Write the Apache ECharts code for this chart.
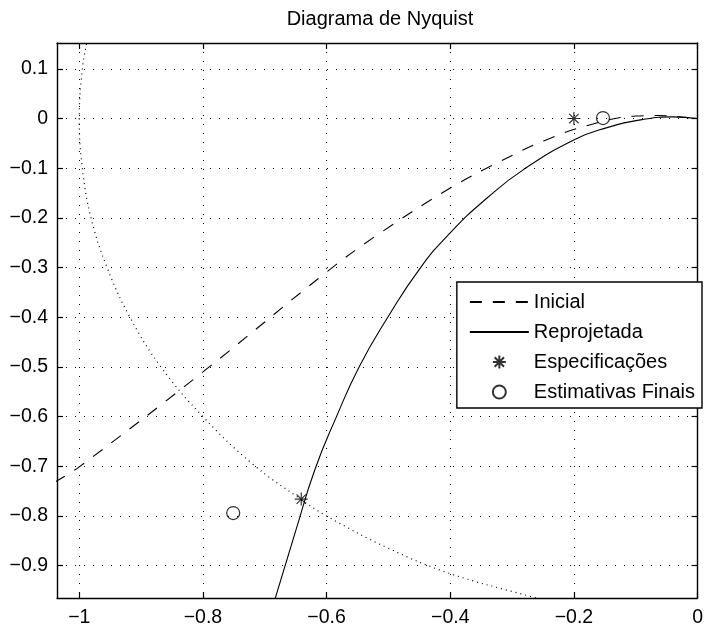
<!DOCTYPE html>
<html>
<head>
  <meta charset="utf-8">
  <title>Diagrama de Nyquist</title>
  <style>
html, body { margin: 0; padding: 0; background: #fff; }
#chart { width: 706px; height: 628px; }
  </style>
</head>
<body>
  <div id="chart"></div>
  <script src="https://cdn.jsdelivr.net/npm/echarts@6/dist/echarts.min.js"></script>
  <script>
  // values
  const xTicks = [-1, -0.8, -0.6, -0.4, -0.2, 0];
  const yTicks = [0.1, 0, -0.1, -0.2, -0.3, -0.4, -0.5, -0.6, -0.7, -0.8, -0.9];

  const inicial = [
    [-1.04, -0.732], [-1.0, -0.701], [-0.8, -0.510], [-0.6, -0.309], [-0.52, -0.236],
    [-0.4, -0.140], [-0.319, -0.086], [-0.247, -0.044], [-0.178, -0.014], [-0.1, 0.005],
    [-0.062, 0.006], [-0.03, 0.0035], [0, 0]
  ];
  const reprojetada = [
    [-0.689, -0.99], [-0.65, -0.83], [-0.619, -0.707], [-0.584, -0.600], [-0.547, -0.499],
    [-0.501, -0.400], [-0.448, -0.300], [-0.400, -0.230], [-0.3405, -0.160], [-0.2816, -0.1028],
    [-0.1987, -0.0423], [-0.1478, -0.0188], [-0.0888, -0.002], [-0.0406, 0.0034], [0, 0]
  ];
  const especificacoes = [[-0.2, 0], [-0.641, -0.766]];
  const estimativas = [[-0.153, 0.001], [-0.751, -0.794]];
  const circulo = [
    [-0.985, 0.17], [-0.988, 0.152], [-0.995, 0.1], [-1, 0], [-0.995, -0.1], [-0.981, -0.2],
    [-0.955, -0.3], [-0.918, -0.4], [-0.868, -0.5], [-0.8, -0.6], [-0.72, -0.695],
    [-0.642, -0.766], [-0.6, -0.8], [-0.5, -0.865], [-0.4, -0.916], [-0.27, -0.962], [-0.25, -0.968]
  ];

  const font = "'Liberation Sans', Arial, Helvetica, sans-serif";
  const fmt = v => {
    if (Math.abs(v) < 1e-9) return '0';
    return (v < 0 ? '\u2212' : '') + String(+Math.abs(v).toFixed(2));
  };
  const asterisk = 'path://M0,-10L0,10M-10,0L10,0M-7.2,-7.2L7.2,7.2M-7.2,7.2L7.2,-7.2';

  const boxAxisLine = { show: true, onZero: false, lineStyle: { color: '#000', width: 1.4 } };
  const tickStyle = { color: '#000', width: 1.2 };
  const gridDots = { color: '#000', width: 1, type: [1, 8] };

  const option = {
    animation: false,
    backgroundColor: '#fff',
    textStyle: { fontFamily: font },
    title: {
      text: 'Diagrama de Nyquist',
      left: 380,
      top: 9,
      padding: 0,
      textAlign: 'center',
      textStyle: { fontFamily: font, fontSize: 20, fontWeight: 'normal', color: '#000' }
    },
    grid: { left: 57, right: 4, top: 43, bottom: 30, containLabel: false },
    legend: {
      orient: 'vertical',
      right: 4,
      top: 282,
      padding: [10, 7, 6, 12],
      itemGap: 10,
      itemWidth: 59,
      itemHeight: 13,
      backgroundColor: '#fff',
      borderColor: '#000',
      borderWidth: 1.4,
      borderRadius: 0,
      textStyle: { fontFamily: font, fontSize: 20, color: '#000' },
      data: [
        { name: 'Inicial', itemStyle: { opacity: 0 } },
        { name: 'Reprojetada', itemStyle: { opacity: 0 } },
        'Especificações',
        'Estimativas Finais'
      ]
    },
    xAxis: [{
      type: 'value', min: -1.036, max: 0, splitNumber: 5, position: 'bottom',
      axisLine: boxAxisLine,
      axisTick: { inside: true, length: 6, customValues: xTicks, lineStyle: tickStyle },
      axisLabel: { customValues: xTicks, formatter: fmt, margin: 10, fontSize: 19.5, color: '#000', fontFamily: font },
      splitLine: { show: true, lineStyle: gridDots }
    }, {
      type: 'value', min: -1.036, max: 0, position: 'top',
      axisLine: boxAxisLine,
      axisTick: { inside: true, length: 6, customValues: xTicks, lineStyle: tickStyle },
      axisLabel: { show: false },
      splitLine: { show: false }
    }],
    yAxis: [{
      type: 'value', min: -0.965, max: 0.152, splitNumber: 12, position: 'left',
      axisLine: boxAxisLine,
      axisTick: { inside: true, length: 6, customValues: yTicks, lineStyle: tickStyle },
      axisLabel: { customValues: yTicks, formatter: fmt, margin: 9, fontSize: 19.5, color: '#000', fontFamily: font },
      splitLine: { show: true, lineStyle: gridDots }
    }, {
      type: 'value', min: -0.965, max: 0.152, position: 'right',
      axisLine: boxAxisLine,
      axisTick: { inside: true, length: 6, customValues: yTicks, lineStyle: tickStyle },
      axisLabel: { show: false },
      splitLine: { show: false }
    }],
    series: [{
      name: 'circulo',
      type: 'line',
      data: circulo,
      smooth: 0.4,
      symbol: 'none',
      silent: true,
      lineStyle: { color: '#000', width: 1.2, type: [1, 4] },
      z: 2
    }, {
      name: 'Inicial',
      type: 'line',
      data: inicial,
      smooth: 0.4,
      symbol: 'none',
      itemStyle: { color: '#000' },
      lineStyle: { color: '#000', width: 1.1, type: [12, 11] },
      z: 3
    }, {
      name: 'Reprojetada',
      type: 'line',
      data: reprojetada,
      smooth: 0.5,
      symbol: 'none',
      itemStyle: { color: '#000' },
      lineStyle: { color: '#000', width: 1.1, type: 'solid' },
      z: 3
    }, {
      name: 'Especificações',
      type: 'scatter',
      data: especificacoes,
      symbol: asterisk,
      symbolSize: 13,
      itemStyle: { color: 'transparent', borderColor: '#000', borderWidth: 1.2 },
      z: 4
    }, {
      name: 'Estimativas Finais',
      type: 'scatter',
      data: estimativas,
      symbol: 'circle',
      symbolSize: 13,
      itemStyle: { color: 'transparent', borderColor: '#000', borderWidth: 1.2 },
      z: 4
    }]
  };

  const chart = echarts.init(document.getElementById('chart'), null, { renderer: 'canvas' });
  chart.setOption(option);
  </script>
</body>
</html>
